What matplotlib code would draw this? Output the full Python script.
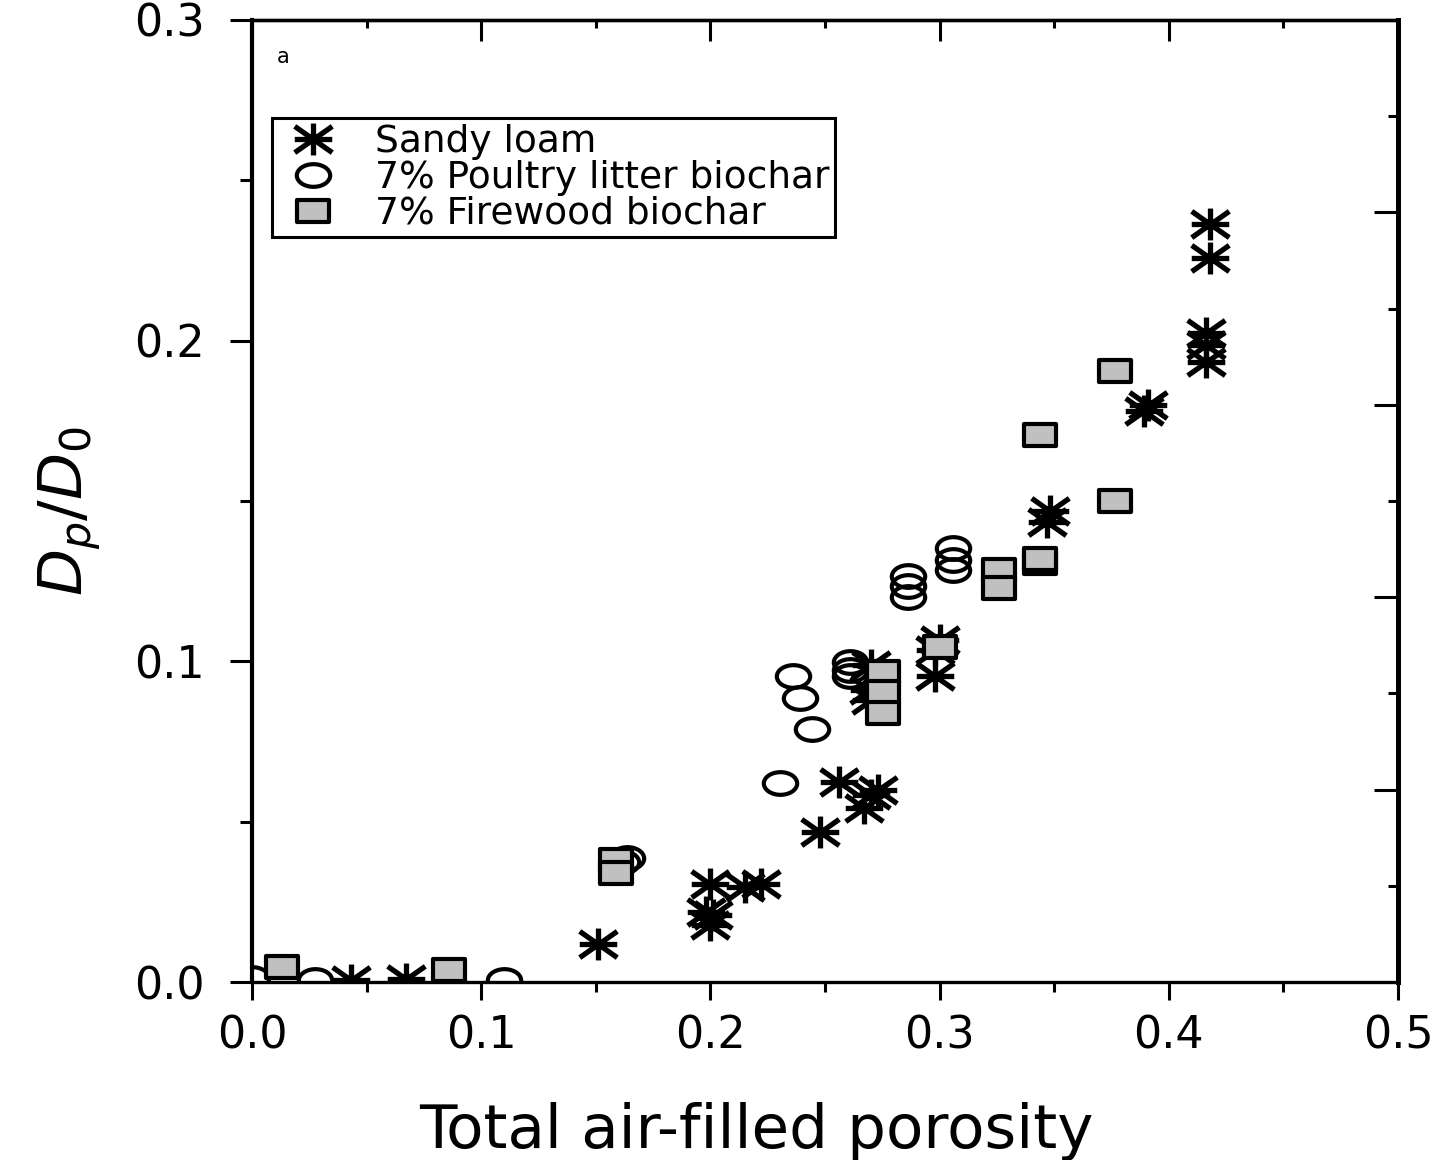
import numpy as np
import matplotlib
matplotlib.use("Agg")
import matplotlib.pyplot as plt
from matplotlib.path import Path
from matplotlib.ticker import MultipleLocator, FixedLocator, NullFormatter

plt.rcParams['font.family'] = ['DejaVu Sans']
plt.rcParams['mathtext.fontset'] = 'dejavusans'

# --------------------------
# data
# --------------------------
sandy_x = [0.418, 0.418, 0.416, 0.416, 0.416, 0.391, 0.389, 0.348, 0.347,
           0.300, 0.298, 0.298, 0.270, 0.269, 0.270, 0.270, 0.273, 0.267,
           0.256, 0.248, 0.222, 0.215, 0.200, 0.198, 0.200, 0.201, 0.151,
           0.067, 0.043]
sandy_y = [0.2364, 0.2258, 0.2024, 0.1986, 0.1933, 0.180, 0.178, 0.147, 0.1434,
           0.1066, 0.1035, 0.0954, 0.0988, 0.091, 0.088, 0.0583, 0.0599, 0.0543,
           0.0624, 0.0468, 0.0306, 0.0296, 0.0306, 0.0218, 0.0178, 0.0209, 0.0118,
           0.0008, 0.0006]

poultry_x = [0.0, 0.0275, 0.110, 0.1636, 0.1614, 0.2304, 0.236, 0.239, 0.2443,
             0.261, 0.261, 0.261, 0.2862, 0.2862, 0.2862, 0.306, 0.306, 0.306]
poultry_y = [0.0012, 0.0006, 0.0006, 0.0387, 0.0374, 0.062, 0.0954, 0.0886, 0.0789,
             0.0998, 0.0973, 0.0954, 0.1266, 0.1235, 0.120, 0.1353, 0.1316, 0.1285]

firewood_x = [0.0131, 0.086, 0.159, 0.159, 0.2753, 0.2753, 0.2753, 0.300,
              0.326, 0.326, 0.344, 0.344, 0.344, 0.3765, 0.3765]
firewood_y = [0.0047, 0.0037, 0.038, 0.034, 0.0967, 0.0904, 0.0839, 0.1045,
              0.1285, 0.1229, 0.1307, 0.132, 0.1706, 0.150, 0.1905]

labels = ["Sandy loam", "7% Poultry litter biochar", "7% Firewood biochar"]

# --------------------------
# wide markers (picture is stretched sideways)
# --------------------------
star = Path([(-1, 0), (1, 0), (0, -0.85), (0, 0.85),
             (-1, -0.7), (1, 0.7), (-1, 0.7), (1, -0.7)],
            [Path.MOVETO, Path.LINETO] * 4)
circ = Path.unit_circle()
ellipse = Path(circ.vertices * [1.0, 0.68], circ.codes)
rect = Path([(-1, -0.72), (1, -0.72), (1, 0.72), (-1, 0.72), (-1, -0.72)],
            [Path.MOVETO, Path.LINETO, Path.LINETO, Path.LINETO, Path.CLOSEPOLY])

fig = plt.figure(figsize=(14.45, 11.6), dpi=100)
ax = fig.add_axes([0.1744, 0.1534, 0.7931, 0.8294])

ax.plot(sandy_x, sandy_y, linestyle='none', marker=star, markersize=27,
        markeredgewidth=3.8, color='black', label=labels[0], zorder=3)
ax.plot(poultry_x, poultry_y, linestyle='none', marker=ellipse, markersize=24,
        markeredgewidth=3.0, markerfacecolor='none', markeredgecolor='black',
        label=labels[1], zorder=4)
ax.plot(firewood_x, firewood_y, linestyle='none', marker=rect, markersize=23,
        markeredgewidth=3.0, markerfacecolor='#c0c0c0', markeredgecolor='black',
        label=labels[2], zorder=5)

ax.set_xlim(0, 0.5)
ax.set_ylim(0, 0.3)

ax.xaxis.set_major_locator(MultipleLocator(0.1))
ax.xaxis.set_minor_locator(MultipleLocator(0.05))
ax.yaxis.set_major_locator(MultipleLocator(0.1))
ax.yaxis.set_minor_locator(MultipleLocator(0.05))
ax.xaxis.set_major_formatter(plt.FuncFormatter(lambda v, p: f"{v:.1f}"))
ax.yaxis.set_major_formatter(plt.FuncFormatter(lambda v, p: f"{v:.1f}"))

ax.tick_params(axis='x', which='both', direction='out', top=False, width=2.2,
               labelsize=32, pad=10)
ax.tick_params(axis='x', which='major', length=13)
ax.tick_params(axis='x', which='minor', length=7)
ax.tick_params(axis='y', which='both', direction='out', right=False, width=2.2,
               labelsize=32, pad=18)
ax.tick_params(axis='y', which='major', length=16)
ax.tick_params(axis='y', which='minor', length=9)

# top axis: same ticks, pointing in
top = ax.secondary_xaxis('top')
top.xaxis.set_major_locator(MultipleLocator(0.1))
top.xaxis.set_minor_locator(MultipleLocator(0.05))
top.xaxis.set_major_formatter(NullFormatter())
top.tick_params(which='both', direction='in', width=2.2)
top.tick_params(which='major', length=15)
top.tick_params(which='minor', length=6)
top.spines['top'].set_linewidth(2.4)

# right axis: its own tick spacing, pointing in
right = ax.secondary_yaxis('right')
right.yaxis.set_major_locator(FixedLocator([0.06, 0.12, 0.18, 0.24]))
right.yaxis.set_minor_locator(FixedLocator([0.03, 0.09, 0.15, 0.21, 0.27]))
right.yaxis.set_major_formatter(NullFormatter())
right.tick_params(which='both', direction='in', width=2.2)
right.tick_params(which='major', length=17)
right.tick_params(which='minor', length=7)
right.spines['right'].set_linewidth(3.6)

ax.spines['left'].set_linewidth(3.0)
ax.spines['bottom'].set_linewidth(2.4)
ax.spines['top'].set_linewidth(2.4)
ax.spines['right'].set_linewidth(3.6)

ax.set_xlabel("Total air-filled porosity", fontsize=44)
ax.xaxis.set_label_coords(0.44, -0.125)
ax.set_ylabel(r"$D_p/D_0$", fontsize=44)
ax.yaxis.set_label_coords(-0.13, 0.49)

ax.text(0.022, 0.972, "a", transform=ax.transAxes, fontsize=15,
        ha='left', va='top')

leg = ax.legend(loc='upper left', bbox_to_anchor=(0.0175, 0.898),
                borderaxespad=0, fontsize=27, fancybox=False, edgecolor='black',
                framealpha=1, handletextpad=0.7, labelspacing=0.0,
                borderpad=0.15, handlelength=1.9)
leg.get_frame().set_linewidth(2.2)

plt.savefig("out.png", dpi=100)
